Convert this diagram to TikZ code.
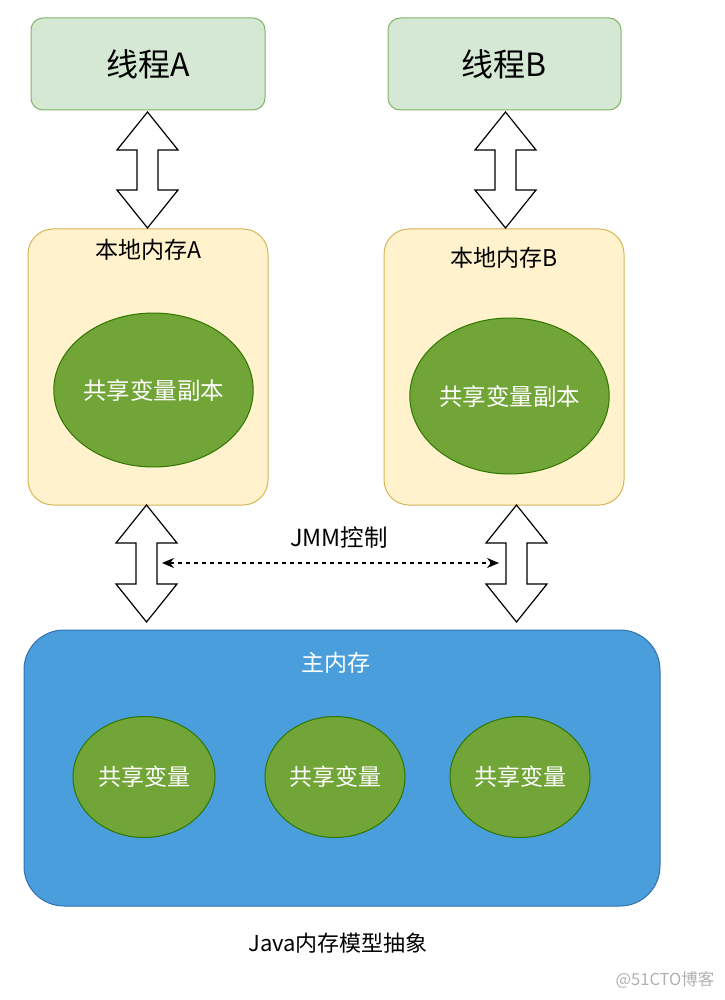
\documentclass[tikz,border=0pt]{standalone}
\usepackage{fontspec}
\setmainfont{Noto Sans CJK SC}
\usetikzlibrary{shapes.geometric,arrows.meta}
\definecolor{thrfill}{HTML}{D5E8D4}
\definecolor{thrdraw}{HTML}{82B366}
\definecolor{locfill}{HTML}{FFF2CC}
\definecolor{locdraw}{HTML}{D6B656}
\definecolor{varfill}{HTML}{72A537}
\definecolor{vardraw}{HTML}{2D7600}
\definecolor{mainfill}{HTML}{4A9EDB}
\definecolor{maindraw}{HTML}{3070B3}
\definecolor{wmgray}{HTML}{B0B0B0}
\newcommand{\dblarr}[3]{% cx, top, bottom
  \draw[line width=1.2pt, fill=white, line join=miter]
    (#1,#2) -- (#1+30.5,#2+38) -- (#1+10.5,#2+38) -- (#1+10.5,#3-38) -- (#1+30.5,#3-38)
    -- (#1,#3) -- (#1-30.5,#3-38) -- (#1-10.5,#3-38) -- (#1-10.5,#2+38) -- (#1-30.5,#2+38) -- cycle;}
\tikzset{
  thr/.style={draw=thrdraw, fill=thrfill, line width=1pt, rounded corners=12pt, minimum width=234pt, minimum height=92pt, font=\fontsize{32}{34}\selectfont},
  loc/.style={draw=locdraw, fill=locfill, line width=1pt, rounded corners=25pt, minimum width=240pt, minimum height=276pt},
  mainbox/.style={draw=maindraw, fill=mainfill, line width=1pt, rounded corners=40pt, minimum width=636pt, minimum height=276pt},
  var/.style={ellipse, draw=vardraw, fill=varfill, line width=1pt, text=white, inner sep=0pt, font=\fontsize{23.5}{25}\selectfont},
  lbl/.style={font=\fontsize{23}{25}\selectfont, inner sep=0pt},
}
\begin{document}
\begin{tikzpicture}[x=1pt,y=-1pt]
\useasboundingbox (0,0) rectangle (724,1000);
% threads
\node[thr] (ta) at (148,64) {线程A};
\node[thr, minimum width=233pt] (tb) at (504.5,64) {线程B};
% local memories
\node[loc] (la) at (148,367) {};
\node[loc] (lb) at (504,367) {};
\node[lbl] (lat) at (148,250) {本地内存A};
\node[lbl] (lbt) at (504,258) {本地内存B};
\node[var, minimum width=197pt, minimum height=154pt] (ca) at (153.5,390) {共享变量副本};
\node[var, minimum width=195pt, minimum height=156pt] (cb) at (509.5,396) {共享变量副本};
% main memory
\node[mainbox] (mm) at (342,768) {};
\node[lbl, text=white] (mmt) at (336,663) {主内存};
\node[var, minimum width=142pt, minimum height=121pt, font=\fontsize{23}{25}\selectfont] (v1) at (144,777) {共享变量};
\node[var, minimum width=140pt, minimum height=121pt, font=\fontsize{23}{25}\selectfont] (v2) at (335,777) {共享变量};
\node[var, minimum width=140pt, minimum height=121pt, font=\fontsize{23}{25}\selectfont] (v3) at (520,777) {共享变量};
% double arrows
\dblarr{147.5}{112}{228}
\dblarr{505.5}{112}{228}
\dblarr{146.5}{505}{622}
\dblarr{516.5}{505}{622}
% JMM control
\coordinate (jl) at (162,563);
\coordinate (jr) at (499,563);
\draw[line width=1.2pt, dash pattern=on 4pt off 4pt, {Stealth[length=12pt,width=10pt]}-{Stealth[length=12pt,width=10pt]}] (jl) -- (jr);
\node[lbl, font=\fontsize{23.5}{25}\selectfont] (jmm) at (339,538) {JMM控制};
% caption
\node[lbl, font=\fontsize{22}{24}\selectfont] (cap) at (338,943) {Java内存模型抽象};
\node[lbl, text=wmgray, font=\fontsize{16.5}{18}\selectfont] (wm) at (665,980) {@51CTO博客};
\end{tikzpicture}
\end{document}
